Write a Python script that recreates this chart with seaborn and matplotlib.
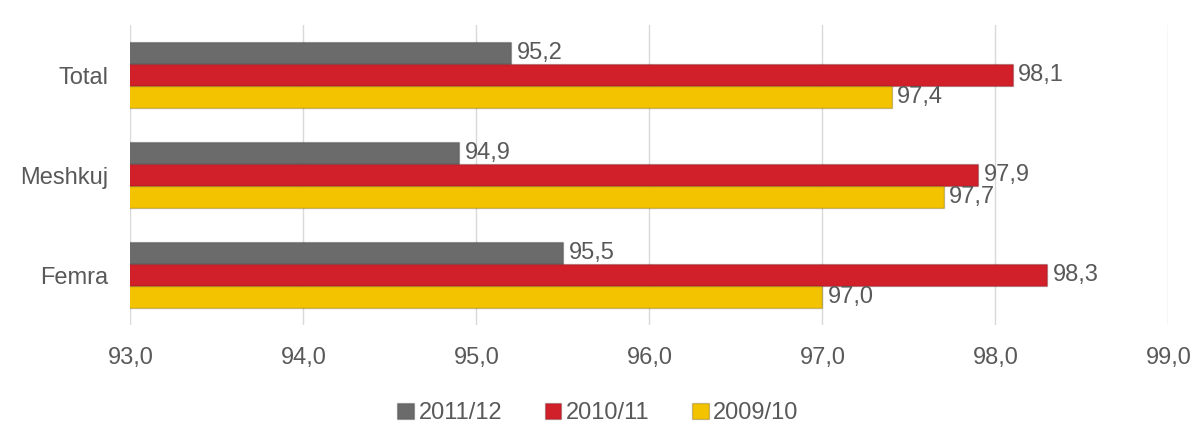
import matplotlib
matplotlib.use("Agg")
import matplotlib.pyplot as plt
import numpy as np
import pandas as pd
import seaborn as sns

# data
categories = ["Total", "Meshkuj", "Femra"]
series = ["2011/12", "2010/11", "2009/10"]
values_2011_12 = [95.2, 94.9, 95.5]
values_2010_11 = [98.1, 97.9, 98.3]
values_2009_10 = [97.4, 97.7, 97.0]
xticks = [93.0, 94.0, 95.0, 96.0, 97.0, 98.0, 99.0]
colors = ["#6b6b6b", "#d2202a", "#f3c300"]

df = pd.DataFrame({
    "category": categories * 3,
    "series": [s for s in series for _ in categories],
    "value": values_2011_12 + values_2010_11 + values_2009_10,
})

sns.set_theme(style="white")
plt.rcParams["font.family"] = ["Liberation Sans", "DejaVu Sans"]
text_color = "#595959"

fig = plt.figure(figsize=(11.96, 4.34), dpi=100)
ax = fig.add_axes([0.109, 0.251, 0.868, 0.691])

sns.barplot(data=df, y="category", x="value", hue="series", order=categories,
            hue_order=series, palette=colors, orient="h", width=0.66,
            saturation=1, ax=ax, legend=False, zorder=3)

for patch in ax.patches:
    patch.set_edgecolor("#00000033")
    patch.set_linewidth(1.0)

ax.set_xlim(93, 99)
ax.set_xticks(xticks)
ax.set_xticklabels([f"{t:.1f}".replace(".", ",") for t in xticks])
ax.grid(axis="x", color="#d9d9d9", linewidth=1, zorder=0)
ax.grid(axis="y", visible=False)
for s in ax.spines.values():
    s.set_visible(False)
ax.set_xlabel("")
ax.set_ylabel("")
ax.tick_params(axis="x", labelsize=17, colors=text_color, pad=16, length=0)
ax.tick_params(axis="y", labelsize=17, colors=text_color, pad=16, length=0)

for cont in ax.containers:
    labels = [f"{b.get_width():.1f}".replace(".", ",") for b in cont]
    ax.bar_label(cont, labels=labels, padding=4, fontsize=17, color=text_color)

handles = [plt.Rectangle((0, 0), 1, 1, facecolor=c, edgecolor="#00000033") for c in colors]
fig.legend(handles, series, loc="center", bbox_to_anchor=(0.5, 0.048), ncol=3,
           frameon=False, fontsize=17, labelcolor=text_color, handlelength=0.7,
           handleheight=0.7, handletextpad=0.2, columnspacing=1.8)

fig.savefig("out.png", dpi=100)
